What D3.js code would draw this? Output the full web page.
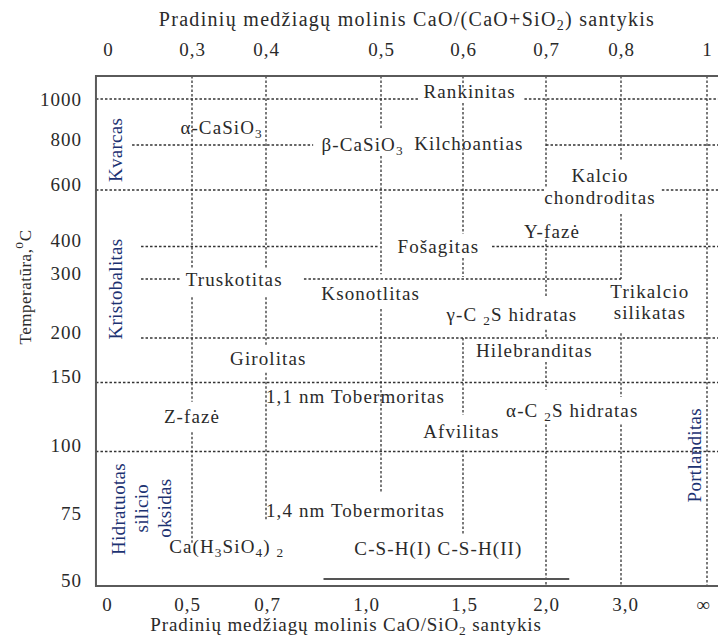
<!DOCTYPE html>
<html>
<head>
<meta charset="utf-8">
<script src="https://cdn.jsdelivr.net/npm/d3@7"></script>
<style>
body { margin: 0; background: #fff; }
svg text { font-family: "Liberation Serif", "Times New Roman", serif; fill: #2a2a2a; }
.phase { font-size: 19px; letter-spacing: 1.1px; }
.blue { fill: #1c3272; font-size: 19px; letter-spacing: 0.3px; }
.tick text { font-size: 19px; letter-spacing: 1px; }
.grid { stroke: #333; stroke-width: 1.3; stroke-dasharray: 2.5,2; fill: none; }
.frame { stroke: #5a5a5a; stroke-width: 2; fill: none; }
</style>
</head>
<body>
<script>
// top axis: molar CaO/(CaO+SiO2)
var topTicks = [0, 0.3, 0.4, 0.5, 0.6, 0.7, 0.8, 1]
var topLabels = ["0", "0,3", "0,4", "0,5", "0,6", "0,7", "0,8", "1"]
// bottom axis: molar CaO/SiO2
var bottomLabels = ["0", "0,5", "0,7", "1,0", "1,5", "2,0", "3,0", "∞"]
// temperature ticks, °C
var tempTicks = [1000, 800, 600, 400, 300, 200, 150, 100, 75, 50]

// horizontal dotted boundaries: [temperature, ratio from, ratio to]
var hLines = [
  [1000, -0.043, 0.545], [1000, 0.674, 1.03],
  [800, 0.086, 0.441], [800, 0.7, 1.03],
  [600, -0.043, 0.699], [600, 0.895, 1.03],
  [400, 0.118, 0.498], [400, 0.635, 1.03],
  [300, 0.118, 0.26], [300, 0.433, 0.8],
  [200, 0.118, 1.03],
  [150, -0.043, 1.03],
  [100, -0.043, 1.03]
]

// vertical dotted boundaries: [ratio, temperature from, temperature to]
var vLines = [
  [0.3, 1100, 334], [0.3, 269, 136], [0.3, 114, 66],
  [0.4, 1100, 334], [0.4, 269, 192], [0.4, 161, 74.6],
  [0.5, 1100, 870], [0.5, 751, 315], [0.5, 249, 85],
  [0.6, 1100, 1050], [0.6, 983, 444], [0.6, 365, 306], [0.6, 200, 126.5], [0.6, 101, 69],
  [0.7, 1100, 609], [0.7, 425, 271], [0.7, 214, 200], [0.7, 173, 145], [0.7, 119.5, 50],
  [0.8, 1100, 733], [0.8, 515, 300], [0.8, 208, 139.5], [0.8, 119.5, 50],
  [1, 1100, 50]
]

// phase names: [text, ratio, temperature, anchor]  ("_x" = subscript)
var phases = [
  ["Rankinitas", 0.608, 1004],
  ["α-CaSiO_3", 0.34, 848],
  ["β-CaSiO_3", 0.484, 773],
  ["Kilchoantias", 0.607, 778],
  ["Kalcio", 0.772, 636],
  ["chondroditas", 0.772, 550],
  ["Y-fazė", 0.708, 430],
  ["Fošagitas", 0.57, 380],
  ["Truskotitas", 0.357, 288],
  ["Ksonotlitas", 0.491, 264],
  ["Trikalcio", 0.867, 268],
  ["silikatas", 0.867, 232],
  ["γ-C _2S hidratas", 0.659, 229],
  ["Girolitas", 0.402, 170],
  ["Hilebranditas", 0.686, 179],
  ["1,1 nm Tobermoritas", 0.4, 135, "start"],
  ["Z-fazė", 0.3, 121],
  ["α-C _2S hidratas", 0.735, 125],
  ["Afvilitas", 0.598, 109.8],
  ["1,4 nm Tobermoritas", 0.4, 75.7, "start"],
  ["Ca(H_3SiO_4) _2", 0.347, 62.3],
  ["C-S-H(I) C-S-H(II)", 0.57, 61.6]
]

// SiO2 phases, written vertically: [text, ratio, temperature]
var silica = [
  ["Kvarcas", 0.025, 778],
  ["Kristobalitas", 0.025, 283],
  ["Hidratuotas", 0.036, 78.7],
  ["silicio", 0.118, 79],
  ["oksidas", 0.2, 79],
  ["Portlanditas", 0.97, 98.6]
]

// C-S-H underline: [temperature, ratio from, ratio to]
var cshLine = [52.6, 0.45, 0.731]

var w = 718
var h = 639
var serif = "'Liberation Serif', 'Times New Roman', serif"

var svg = d3.select("body").append("svg")
            .attr("width", w)
            .attr("height", h)

var x = d3.scaleLinear()
          .domain(topTicks)
          .range([108, 192, 266, 381, 463, 546, 621, 707])

var xBottom = d3.scaleOrdinal()
                .domain(bottomLabels)
                .range([107, 187, 267, 366, 464, 546, 625, 703])

var y = d3.scaleLinear()
          .domain(tempTicks)
          .range([99, 145, 190, 246.5, 279, 338, 382.5, 451.5, 519, 586])

function rich(sel, str){
    var parts = str.split(/(_.)/)
    var low = false
    parts.forEach(function(p){
        if (!p) return
        if (p[0] == "_") {
            sel.append("tspan").attr("dy", low ? 0 : 4).attr("font-size", "0.7em").text(p[1])
            low = true
        } else {
            sel.append("tspan").attr("dy", low ? -4 : 0).text(p)
            low = false
        }
    })
}

// grid
svg.selectAll("line.h")
   .data(hLines)
   .enter()
   .append("line")
   .attr("class", "grid")
   .attr("x1", function(d){ return x(d[1]) })
   .attr("x2", function(d){ return x(d[2]) })
   .attr("y1", function(d){ return y(d[0]) })
   .attr("y2", function(d){ return y(d[0]) })

svg.selectAll("line.v")
   .data(vLines)
   .enter()
   .append("line")
   .attr("class", "grid")
   .attr("x1", function(d){ return x(d[0]) })
   .attr("x2", function(d){ return x(d[0]) })
   .attr("y1", function(d){ return y(d[1]) })
   .attr("y2", function(d){ return y(d[2]) })

// frame (top, left, bottom)
svg.append("path")
   .attr("class", "frame")
   .attr("d", "M" + x(1.03) + "," + y(1100) + "H" + x(-0.043) + "V" + y(50) + "H" + x(1.03))

svg.append("line")
   .attr("x1", x(cshLine[1]))
   .attr("x2", x(cshLine[2]))
   .attr("y1", y(cshLine[0]))
   .attr("y2", y(cshLine[0]))
   .attr("stroke", "#555")
   .attr("stroke-width", 2)

// axes
var topAxis = d3.axisTop(x)
                .tickValues(topTicks)
                .tickFormat(function(d, i){ return topLabels[i] })
                .tickSize(0)
svg.append("g")
   .attr("transform", "translate(0,56)")
   .attr("font-family", serif)
   .call(topAxis)
   .call(function(g){ g.select(".domain").remove() })
   .selectAll("text").attr("dy", 0).attr("y", 0)

var bottomAxis = d3.axisBottom(xBottom).tickSize(0)
svg.append("g")
   .attr("transform", "translate(0,611)")
   .attr("font-family", serif)
   .call(bottomAxis)
   .call(function(g){ g.select(".domain").remove() })
   .selectAll("text").attr("dy", 0).attr("y", 0)

var leftAxis = d3.axisLeft(y)
                 .tickValues(tempTicks)
                 .tickFormat(d3.format("d"))
                 .tickSize(0)
svg.append("g")
   .attr("transform", "translate(82,0)")
   .attr("font-family", serif)
   .call(leftAxis)
   .call(function(g){ g.select(".domain").remove() })
   .selectAll("text")
   .attr("x", 0)
   .attr("dy", function(d){ return d == 1000 ? 6 : 0 })

svg.selectAll(".tick text").attr("fill", "#2a2a2a").attr("font-family", serif).attr("font-size", null)

// titles
var t1 = svg.append("text")
            .attr("x", 407).attr("y", 26)
            .attr("text-anchor", "middle")
            .style("font-size", "20px").style("letter-spacing", "1.3px")
rich(t1, "Pradinių medžiagų molinis CaO/(CaO+SiO_2) santykis")

var t2 = svg.append("text")
            .attr("x", 346).attr("y", 631)
            .attr("text-anchor", "middle")
            .style("font-size", "19px").style("letter-spacing", "0.9px")
rich(t2, "Pradinių medžiagų molinis CaO/SiO_2 santykis")

var t3 = svg.append("text")
            .attr("transform", "translate(31,287) rotate(-90)")
            .attr("text-anchor", "middle")
            .style("font-size", "17px").style("letter-spacing", "0.5px")
t3.append("tspan").text("Temperatūra,")
t3.append("tspan").attr("dy", -8).attr("font-size", "0.8em").text("o")
t3.append("tspan").attr("dy", 8).text("C")

// phase labels
svg.selectAll("text.phase")
   .data(phases)
   .enter()
   .append("text")
   .attr("class", "phase")
   .attr("x", function(d){ return x(d[1]) })
   .attr("y", function(d){ return y(d[2]) })
   .attr("text-anchor", function(d){ return d[3] || "middle" })
   .each(function(d){ rich(d3.select(this), d[0]) })

svg.selectAll("text.blue")
   .data(silica)
   .enter()
   .append("text")
   .attr("class", "blue")
   .attr("transform", function(d){ return "translate(" + x(d[1]) + "," + y(d[2]) + ") rotate(-90)" })
   .attr("text-anchor", "middle")
   .attr("dominant-baseline", "central")
   .text(function(d){ return d[0] })
</script>
</body>
</html>
